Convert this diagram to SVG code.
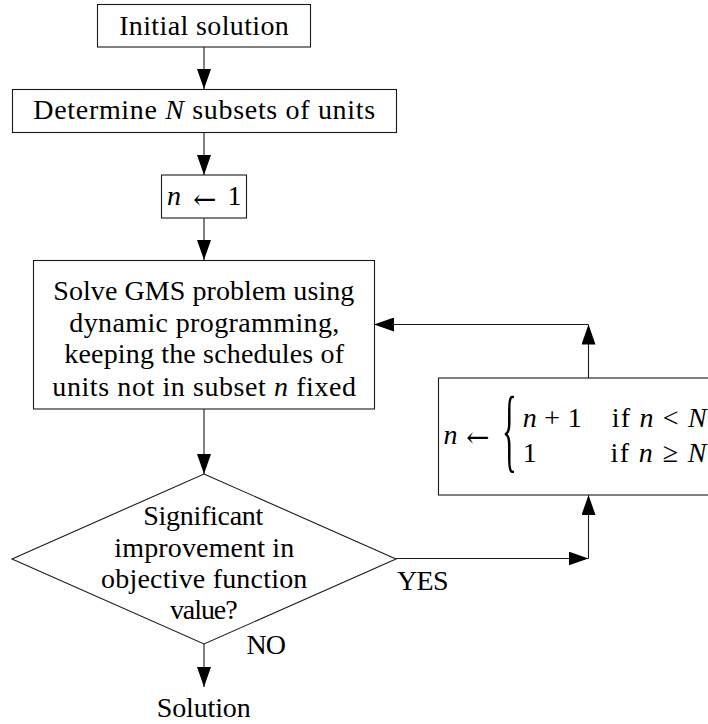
<svg xmlns="http://www.w3.org/2000/svg" width="708" height="724" viewBox="0 0 708 724">
<style>
.box{fill:#fff;stroke:#1a1a1a;stroke-width:1.1}
.ln{fill:none;stroke:#1a1a1a;stroke-width:1.1}
.t{font-family:'Liberation Serif','Times New Roman',serif;font-size:28px;fill:#000;text-anchor:middle}
.s{font-family:'Liberation Serif','Times New Roman',serif;font-size:28px;fill:#000}
.i{font-style:italic}
.ar{font-family:'DejaVu Serif',serif;font-size:28px;fill:#000}
</style>
<defs>
<marker id="arr" markerUnits="userSpaceOnUse" markerWidth="20" markerHeight="14" refX="20" refY="7" orient="auto">
<path d="M0,0 L20,7 L0,14 z" fill="#000"/>
</marker>
</defs>
<rect width="708" height="724" fill="#fff"/>

<g id="connectors">
<line class="ln" x1="204" y1="47" x2="204" y2="89" marker-end="url(#arr)"/>
<line class="ln" x1="204" y1="132" x2="204" y2="175" marker-end="url(#arr)"/>
<line class="ln" x1="204" y1="218" x2="204" y2="260" marker-end="url(#arr)"/>
<line class="ln" x1="204" y1="409" x2="204" y2="474" marker-end="url(#arr)"/>
<line class="ln" x1="204" y1="644" x2="204" y2="687" marker-end="url(#arr)"/>
<line class="ln" x1="396" y1="558.5" x2="588.5" y2="558.5" marker-end="url(#arr)"/>
<line class="ln" x1="588.5" y1="558.5" x2="588.5" y2="495" marker-end="url(#arr)"/>
<line class="ln" x1="588.5" y1="378" x2="588.5" y2="324.5" marker-end="url(#arr)"/>
<line class="ln" x1="588.5" y1="324.5" x2="374" y2="324.5" marker-end="url(#arr)"/>
<text class="s" x="397" y="589.5" textLength="51.5">YES</text>
<text class="s" x="246.5" y="653.5" textLength="39.5">NO</text>
</g>

<g id="n-initial">
<rect class="box" x="97.5" y="4.5" width="213" height="42.5"/>
<text class="t" x="204" y="35" textLength="169.7">Initial solution</text>
</g>

<g id="n-determine">
<rect class="box" x="12.5" y="89.5" width="384" height="43"/>
<text class="t" x="204.2" y="119" textLength="341.7">Determine <tspan class="i">N</tspan> subsets of units</text>
</g>

<g id="n-init-n">
<rect class="box" x="161.5" y="175" width="85" height="43"/>
<text class="s i" x="167" y="205">n</text>
<text class="ar" x="193" y="209">←</text>
<text class="s" x="227.5" y="205">1</text>
</g>

<g id="n-solve">
<rect class="box" x="33.5" y="260.5" width="341" height="148.5"/>
<text class="t" x="203.8" y="300" textLength="301">Solve GMS problem using</text>
<text class="t" x="204.3" y="331.7" textLength="270">dynamic programming,</text>
<text class="t" x="204.2" y="363.3" textLength="279.7">keeping the schedules of</text>
<text class="t" x="204.2" y="395.5" textLength="303.7">units not in subset <tspan class="i">n</tspan> fixed</text>
</g>

<g id="n-decision">
<polygon class="box" points="204,474 396,559 204,644 12,559"/>
<text class="t" x="203.3" y="525" textLength="120">Significant</text>
<text class="t" x="204.3" y="556.7" textLength="180">improvement in</text>
<text class="t" x="204.2" y="588.3" textLength="206.3">objective function</text>
<text class="t" x="203.8" y="619.3" textLength="67.7">value?</text>
</g>

<g id="n-solution">
<text class="t" x="203.7" y="716.5" textLength="94">Solution</text>
</g>

<g id="n-update">
<rect class="box" x="438.5" y="378" width="300" height="117"/>
<text class="s i" x="443.5" y="443.5">n</text>
<text class="ar" x="466" y="446.5">←</text>
<text class="s" x="0" y="0" transform="translate(502,460.5) scale(1.1,3.3)">{</text>
<text class="s" x="522.7" y="426.7" textLength="59"><tspan class="i">n</tspan> + 1</text>
<text class="s" x="611.7" y="426.7" textLength="95">if <tspan class="i">n</tspan> &lt; <tspan class="i">N</tspan></text>
<text class="s" x="522.7" y="462">1</text>
<text class="s" x="610.5" y="462" textLength="96">if <tspan class="i">n</tspan> ≥ <tspan class="i">N</tspan></text>
</g>
</svg>
